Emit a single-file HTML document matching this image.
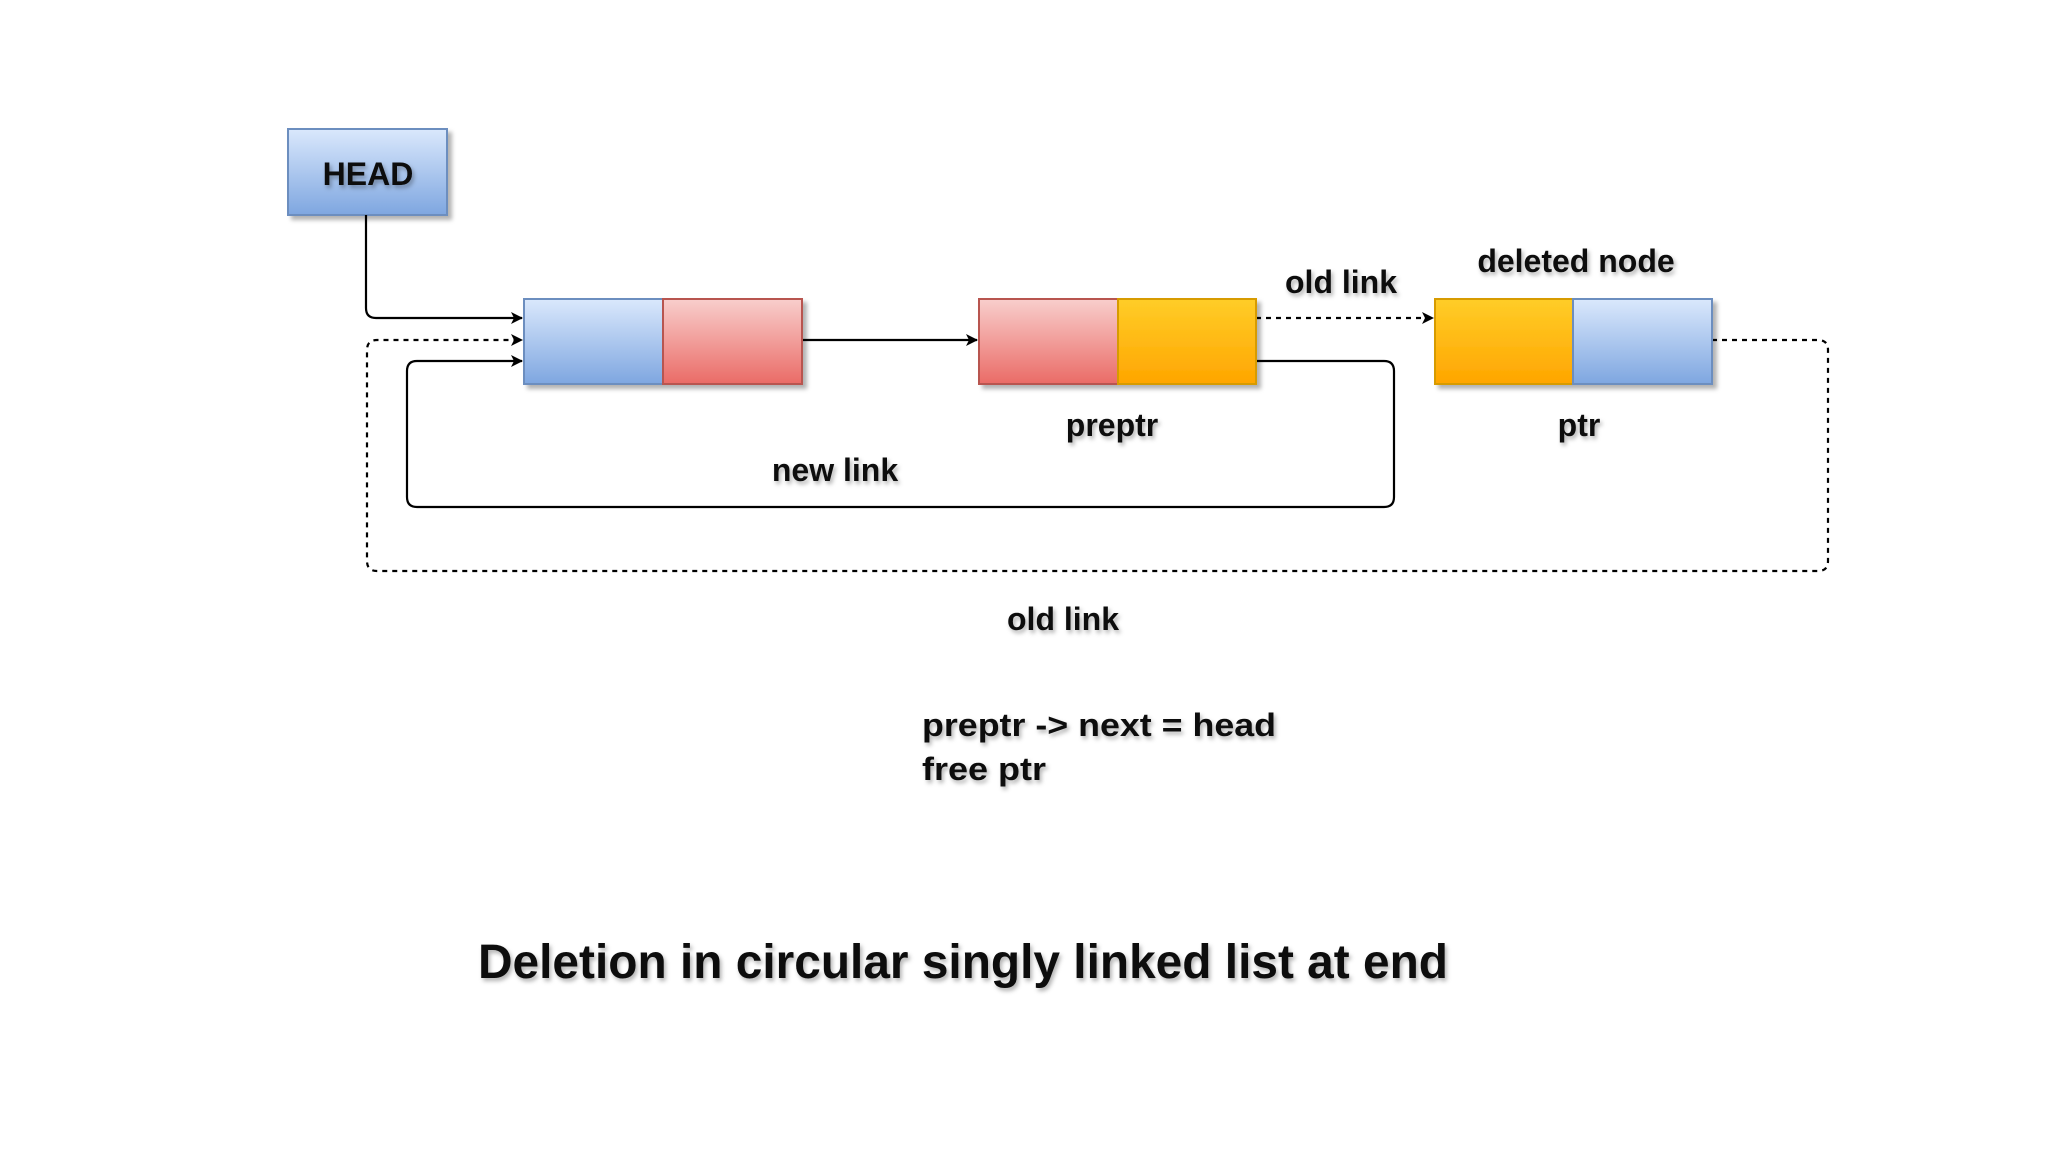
<!DOCTYPE html>
<html><head><meta charset="utf-8"><style>
html,body{margin:0;padding:0;background:#fff;}
svg{display:block;}
text{font-family:"Liberation Sans",Arial,sans-serif;font-weight:bold;fill:#111;}
</style></head><body>
<svg width="2048" height="1152" viewBox="0 0 2048 1152" xmlns="http://www.w3.org/2000/svg">
<defs>
<linearGradient id="bl" x1="0" y1="0" x2="0" y2="1"><stop offset="0" stop-color="#dae8fc"/><stop offset="1" stop-color="#7ea6e0"/></linearGradient>
<linearGradient id="rd" x1="0" y1="0" x2="0" y2="1"><stop offset="0" stop-color="#f8cecc"/><stop offset="1" stop-color="#ea6b66"/></linearGradient>
<linearGradient id="or" x1="0" y1="0" x2="0" y2="1"><stop offset="0" stop-color="#ffcd28"/><stop offset="1" stop-color="#ffa500"/></linearGradient>
<filter id="sh" x="-10%" y="-10%" width="130%" height="130%"><feDropShadow dx="4" dy="4" stdDeviation="2" flood-color="#000" flood-opacity="0.3"/></filter>
<filter id="ts" x="-5%" y="-20%" width="110%" height="160%"><feDropShadow dx="2" dy="3" stdDeviation="2" flood-color="#000" flood-opacity="0.3"/></filter>
<marker id="ar" markerWidth="12" markerHeight="12" refX="11" refY="6" orient="auto" markerUnits="userSpaceOnUse"><path d="M0,0 L12,6 L0,12 L3,6 Z" fill="#000"/></marker>
</defs>

<!-- HEAD -->
<rect x="288" y="129" width="159" height="86" fill="url(#bl)" stroke="#6c8ebf" stroke-width="2" filter="url(#sh)"/>
<text x="368" y="185" font-size="32" text-anchor="middle" filter="url(#ts)">HEAD</text>

<!-- connectors -->
<g fill="none" stroke="#000" stroke-width="2.2">
<path d="M366,215 V308 Q366,318 376,318 H522" marker-end="url(#ar)"/>
<path d="M802,340 H977" marker-end="url(#ar)"/>
<path d="M1256,361 H1384 Q1394,361 1394,371 V497 Q1394,507 1384,507 H417 Q407,507 407,497 V371 Q407,361 417,361 H522" marker-end="url(#ar)"/>
<path d="M1256,318 H1433" stroke-dasharray="5,5" marker-end="url(#ar)"/>
<path d="M1712,340 H1818 Q1828,340 1828,350 V561 Q1828,571 1818,571 H377 Q367,571 367,561 V350 Q367,340 377,340 H522" stroke-dasharray="5,5" marker-end="url(#ar)"/>
</g>

<!-- nodes -->
<g filter="url(#sh)" stroke-width="2">
<rect x="524" y="299" width="139" height="85" fill="url(#bl)" stroke="#6c8ebf"/>
<rect x="663" y="299" width="139" height="85" fill="url(#rd)" stroke="#b85450"/>
<rect x="979" y="299" width="139" height="85" fill="url(#rd)" stroke="#b85450"/>
<rect x="1118" y="299" width="138" height="85" fill="url(#or)" stroke="#d79b00"/>
<rect x="1435" y="299" width="138" height="85" fill="url(#or)" stroke="#d79b00"/>
<rect x="1573" y="299" width="139" height="85" fill="url(#bl)" stroke="#6c8ebf"/>
</g>

<!-- labels -->
<g filter="url(#ts)" font-size="32">
<text x="1341" y="293" text-anchor="middle">old link</text>
<text x="1576" y="272" text-anchor="middle">deleted node</text>
<text x="1112" y="436" text-anchor="middle">preptr</text>
<text x="1579" y="436" text-anchor="middle">ptr</text>
<text x="835" y="481" text-anchor="middle">new link</text>
<text x="1063" y="630" text-anchor="middle">old link</text>
<text x="922" y="736" textLength="354" lengthAdjust="spacingAndGlyphs">preptr -&gt; next = head</text>
<text x="922" y="780" textLength="124" lengthAdjust="spacingAndGlyphs">free ptr</text>
<text x="478" y="978" font-size="48" textLength="970" lengthAdjust="spacingAndGlyphs">Deletion in circular singly linked list at end</text>
</g>
</svg>
</body></html>
